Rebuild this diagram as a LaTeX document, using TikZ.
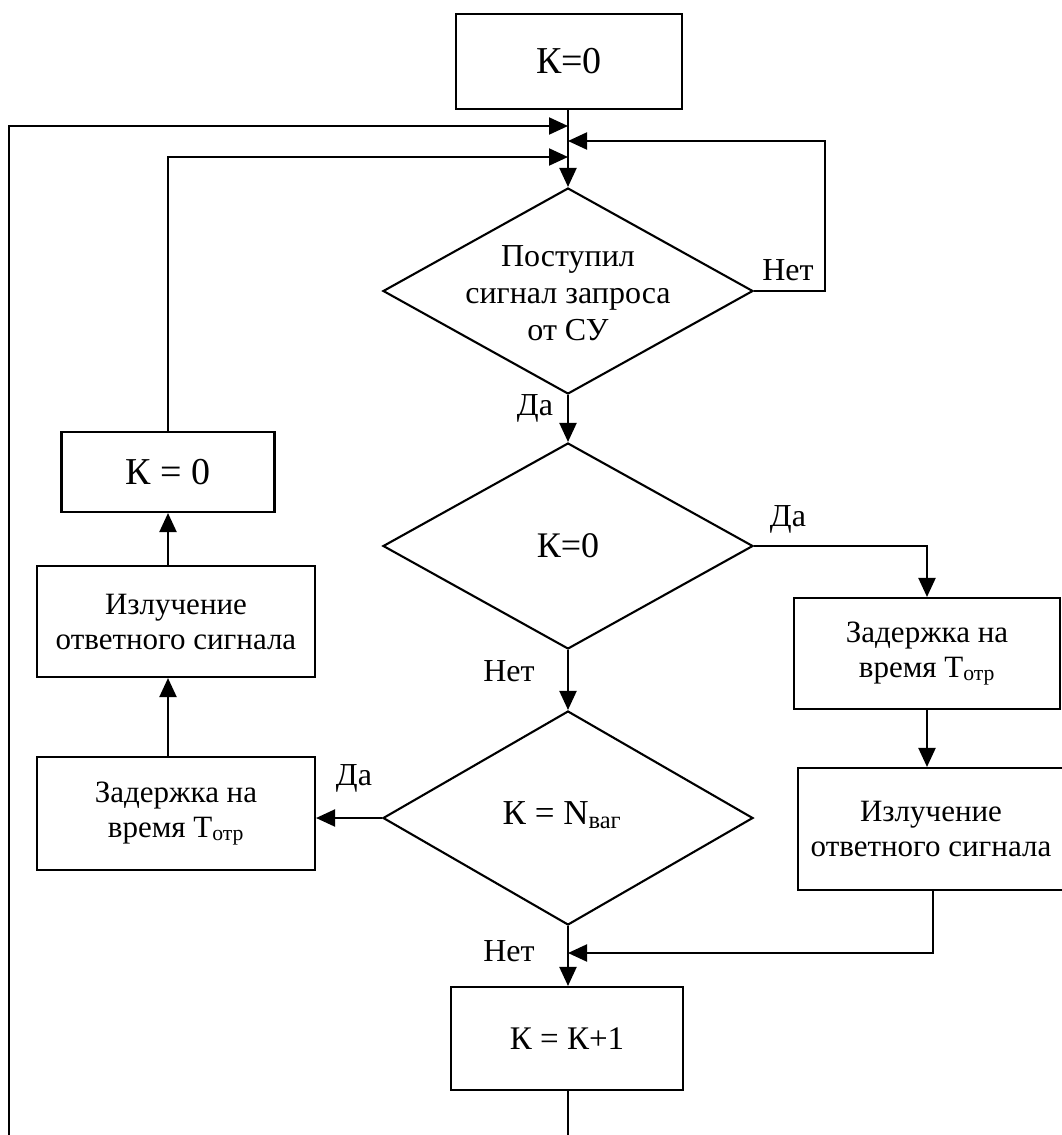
\documentclass[tikz,border=0pt]{standalone}
\usepackage{fontspec}
\setmainfont{Liberation Serif}
\usetikzlibrary{shapes.geometric,arrows.meta}
\begin{document}
\begin{tikzpicture}[x=1pt,y=-1pt,
  line width=2.1pt,
  txt/.style={font=\fontsize{31}{35}\selectfont},
  box/.style={draw, rectangle, inner sep=0pt, align=center, txt},
  dia/.style={draw, diamond, inner sep=0pt,
              minimum width=370pt, minimum height=206pt},
  dtext/.style={align=center, inner sep=0pt},
  lbl/.style={font=\fontsize{32}{34}\selectfont, inner sep=0pt},
  arr/.style={-{Triangle[length=19pt,width=17pt]}}]
\useasboundingbox (0,0) rectangle (1061,1135);

% blocks
\node[box, minimum width=226pt, minimum height=95pt, font=\fontsize{38}{40}\selectfont] (start) at (569,61.5) {К=0};

\node[dia] (d1) at (568,291) {};
\node[dtext, font=\fontsize{32}{37}\selectfont] (d1text) at (568,293) {Поступил\\сигнал запроса\\от СУ};

\node[dia] (d2) at (568,546) {};
\node[dtext, font=\fontsize{36}{40}\selectfont] (d2text) at (568,546) {К=0};

\node[dia, minimum height=214pt] (d3) at (568,818) {};
\node[dtext, font=\fontsize{35}{40}\selectfont] (d3text) at (562,815) {К = N\textsubscript{ваг}};

\node[box, minimum width=266pt, minimum height=111pt] (rb1) at (927,653.5) {Задержка на\\время Т\textsubscript{отр}};
\node[box, minimum width=266pt, minimum height=122pt] (rb2) at (931,829) {Излучение\\ответного сигнала};
\node[box, minimum width=278pt, minimum height=113pt] (lb1) at (176,813.5) {Задержка на\\время Т\textsubscript{отр}};
\node[box, minimum width=278pt, minimum height=111pt] (lb2) at (176,621.5) {Излучение\\ответного сигнала};
\node[box, minimum width=213pt, minimum height=80pt, font=\fontsize{38}{40}\selectfont] (lb3) at (168,472) {К = 0};
\node[box, minimum width=232pt, minimum height=103pt, font=\fontsize{33}{36}\selectfont] (inc) at (567,1038.5) {К = К+1};

% junction points on the main column
\coordinate (jA) at (568,126);
\coordinate (jB) at (568,141);
\coordinate (jC) at (568,157);
\coordinate (jD) at (568,953);
\coordinate (outerBottom) at (9,1136);
\coordinate (incBottom) at (568,1136);

% connectors
\draw[arr] (start.south -| d1.north) -- (d1.north);
\draw[arr] (outerBottom) -- (9,126) -- (jA);
\draw[arr] (lb3.north) -- (168,157) -- (jC);
\draw[arr] (d1.east) -- (825,291) -- (825,141) -- (jB);
\draw[arr] (d1.south) -- (d2.north);
\draw[arr] (d2.east) -- (d2.east -| rb1.north) -- (rb1.north);
\draw[arr] (rb1.south) -- (rb1.south |- rb2.north);
\draw[arr] (rb2.south) ++(2,0) coordinate (rb2out) -- (rb2out |- jD) -- (jD);
\draw[arr] (d2.south) -- (d3.north);
\draw[arr] (d3.west) -- (d3.west -| lb1.east);
\draw[arr] (lb1.north -| lb3.center) -- (lb2.south -| lb3.center);
\draw[arr] (lb2.north -| lb3.center) -- (lb3.south);
\draw[arr] (d3.south) -- (d3.south |- inc.north);
\draw (inc.south -| incBottom) -- (incBottom);

% branch labels
\node[lbl] (l1) at (535,408) {Да};
\node[lbl] (l2) at (788,270) {Нет};
\node[lbl] (l3) at (788,519) {Да};
\node[lbl] (l4) at (509,671) {Нет};
\node[lbl] (l5) at (354,778) {Да};
\node[lbl] (l6) at (509,951) {Нет};
\end{tikzpicture}
\end{document}
